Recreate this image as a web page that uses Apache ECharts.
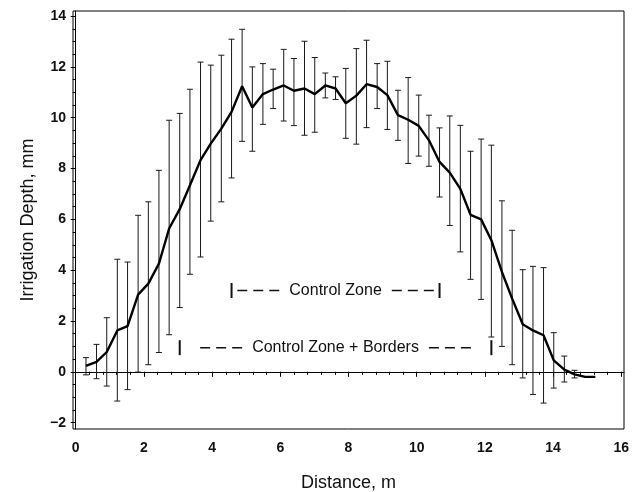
<!DOCTYPE html>
<html>
<head>
<meta charset="utf-8">
<title>Irrigation Depth</title>
<script src="https://cdn.jsdelivr.net/npm/echarts@6/dist/echarts.min.js"></script>
<style>
    html, body { margin: 0; padding: 0; background: #fff; }
    #chart { width: 638px; height: 492px; }
</style>
</head>
<body>
<div id="chart"></div>
<script>
// 测点距离 (m)，每 1 ft 一个点
const distance = [0.30, 0.61, 0.91, 1.22, 1.52, 1.83, 2.13, 2.44, 2.74, 3.05,
    3.35, 3.66, 3.96, 4.27, 4.57, 4.88, 5.18, 5.49, 5.79, 6.10,
    6.40, 6.71, 7.01, 7.32, 7.62, 7.92, 8.23, 8.53, 8.84, 9.14,
    9.45, 9.75, 10.06, 10.36, 10.67, 10.97, 11.28, 11.58, 11.89, 12.19,
    12.50, 12.80, 13.11, 13.41, 13.72, 14.02, 14.33, 14.63, 14.94, 15.24]

// 平均灌水深度 (mm)
const depthMean = [0.23, 0.39, 0.78, 1.63, 1.80, 3.04, 3.47, 4.26, 5.64, 6.40,
    7.34, 8.33, 8.98, 9.57, 10.23, 11.24, 10.40, 10.93, 11.11, 11.27,
    11.06, 11.15, 10.93, 11.27, 11.15, 10.57, 10.87, 11.32, 11.21, 10.89,
    10.10, 9.92, 9.68, 9.11, 8.26, 7.84, 7.20, 6.18, 6.00, 5.18,
    3.93, 2.88, 1.87, 1.63, 1.44, 0.45, 0.09, -0.10, -0.20, -0.20]

// 误差线上端 / 下端 (mm)，最后两个点没有误差线
const depthHigh = [0.56, 1.08, 2.13, 4.43, 4.32, 6.16, 6.69, 7.93, 9.90, 10.17,
    11.12, 12.19, 12.07, 12.46, 13.09, 13.48, 12.00, 12.13, 11.91, 12.69,
    12.33, 13.01, 12.37, 11.76, 11.61, 11.94, 12.72, 13.05, 12.13, 12.22,
    11.08, 11.58, 10.89, 10.10, 9.60, 10.07, 9.70, 8.68, 9.16, 8.92,
    6.73, 5.57, 4.02, 4.15, 4.10, 1.54, 0.62, 0.06, null, null]
const depthLow = [-0.12, -0.27, -0.56, -1.15, -0.70, -0.01, 0.28, 0.76, 1.46, 2.53,
    3.84, 4.52, 5.93, 6.69, 7.63, 9.07, 8.68, 9.74, 10.36, 9.87,
    9.69, 9.31, 9.43, 10.78, 10.72, 9.19, 8.96, 9.61, 10.36, 9.54,
    9.11, 8.20, 8.49, 8.09, 6.88, 5.76, 4.72, 3.64, 2.85, 1.37,
    1.00, 0.28, -0.24, -0.89, -1.23, -0.64, -0.40, -0.24, null, null]

// 刻度
const xTicks = [0, 2, 4, 6, 8, 10, 12, 14, 16]
const yTicks = [-2, 0, 2, 4, 6, 8, 10, 12, 14]

// 区域标注
const zoneNames = ['Control Zone', 'Control Zone + Borders']
const zoneStart = [4.57, 3.05]
const zoneEnd = [10.67, 12.19]
const zoneLevel = [3.2, 0.95]

const xMin = -0.08, xMax = 16.08
const yMin = -2.25, yMax = 14.2

// 次刻度位置
let xMinor = []
for (let v = 0; v <= 16.001; v += 0.4) xMinor.push(+v.toFixed(1))
let yMinor = []
for (let v = -2; v <= 14.001; v += 0.5) yMinor.push(+v.toFixed(1))

const FONT = "'Liberation Sans', Arial, sans-serif"
const zoneFontSize = 16
const measureCtx = document.createElement('canvas').getContext('2d')

function $each(arr, fn) {
    for (let i = 0; i < arr.length; i++) fn(i, arr[i])
}

let lineData = []
let barData = []
$each(distance, (i, d) => {
    lineData.push([d, depthMean[i]])
    if (depthHigh[i] != null) barData.push([d, depthLow[i], depthHigh[i]])
})
let zoneData = []
$each(zoneNames, (i) => {
    zoneData.push([zoneStart[i], zoneEnd[i], zoneLevel[i]])
})

// 误差线
function renderErrorBar(params, api) {
    const x = api.value(0)
    const lo = api.coord([x, api.value(1)])
    const hi = api.coord([x, api.value(2)])
    const half = 3
    const style = { stroke: '#1a1a1a', lineWidth: 1 }
    return {
        type: 'group',
        children: [
            { type: 'line', shape: { x1: lo[0], y1: lo[1], x2: hi[0], y2: hi[1] }, style: style },
            { type: 'line', shape: { x1: hi[0] - half, y1: hi[1], x2: hi[0] + half, y2: hi[1] }, style: style },
            { type: 'line', shape: { x1: lo[0] - half, y1: lo[1], x2: lo[0] + half, y2: lo[1] }, style: style }
        ]
    }
}

// 区域标注: |--- 文字 ---|
function renderZone(params, api) {
    const label = zoneNames[params.dataIndex]
    const left = api.coord([api.value(0), api.value(2)])
    const right = api.coord([api.value(1), api.value(2)])
    const y = left[1]
    measureCtx.font = zoneFontSize + 'px ' + FONT
    const w = measureCtx.measureText(label).width
    const cx = (left[0] + right[0]) / 2
    const tl = cx - w / 2
    const tr = cx + w / 2
    const gap = 10, dashLen = 42
    const dashStyle = { stroke: '#111', lineWidth: 1.6, lineDash: [10, 6] }
    return {
        type: 'group',
        children: [
            { type: 'rect', shape: { x: left[0] - 1, y: y - 7.5, width: 2, height: 15 }, style: { fill: '#111' } },
            { type: 'rect', shape: { x: right[0] - 1, y: y - 7.5, width: 2, height: 15 }, style: { fill: '#111' } },
            { type: 'line', shape: { x1: tl - gap - dashLen, y1: y, x2: tl - gap, y2: y }, style: dashStyle },
            { type: 'line', shape: { x1: tr + gap, y1: y, x2: tr + gap + dashLen, y2: y }, style: dashStyle },
            {
                type: 'text',
                style: {
                    text: label, x: cx, y: y,
                    textAlign: 'center', textVerticalAlign: 'middle',
                    fontSize: zoneFontSize, fontFamily: FONT, fill: '#111'
                }
            }
        ]
    }
}

var myChart = echarts.init(document.getElementById('chart'))

var option = {
    animation: false,
    backgroundColor: '#fff',
    grid: {
        left: 73, right: 14, top: 11, bottom: 63,
        outerBoundsMode: 'none',
        show: true, borderColor: '#000', borderWidth: 1,
        backgroundColor: 'transparent'
    },
    xAxis: [
        {
            type: 'value',
            min: xMin, max: xMax,
            position: 'bottom',
            name: 'Distance, m',
            nameLocation: 'middle',
            nameGap: 45,
            nameMoveOverlap: false,
            nameTextStyle: { fontFamily: FONT, fontSize: 18, color: '#111' },
            axisLine: { show: true, lineStyle: { color: '#000', width: 1 } },
            axisTick: { show: true, customValues: xTicks, length: 5, lineStyle: { color: '#000' } },
            axisLabel: {
                customValues: xTicks, margin: 12,
                fontFamily: FONT, fontSize: 14, fontWeight: 'bold', color: '#111'
            },
            splitLine: { show: false }
        },
        {
            type: 'value',
            min: xMin, max: xMax,
            position: 'bottom',
            axisLine: { show: false },
            axisTick: { show: true, customValues: xMinor, length: 3, lineStyle: { color: '#000' } },
            axisLabel: { show: false },
            splitLine: { show: false }
        }
    ],
    yAxis: [
        {
            type: 'value',
            min: yMin, max: yMax,
            position: 'left',
            name: 'Irrigation Depth, mm',
            nameLocation: 'middle',
            nameGap: 36,
            nameMoveOverlap: false,
            nameTextStyle: { fontFamily: FONT, fontSize: 18, color: '#111' },
            axisLine: { show: true, lineStyle: { color: '#000', width: 1 } },
            axisTick: { show: true, customValues: yTicks, length: 5, lineStyle: { color: '#000' } },
            axisLabel: {
                customValues: yTicks, margin: 7,
                fontFamily: FONT, fontSize: 14, fontWeight: 'bold', color: '#111',
                formatter: (v) => (v < 0 ? '\u2212' + Math.abs(v) : String(v))
            },
            splitLine: { show: false }
        },
        {
            type: 'value',
            min: yMin, max: yMax,
            position: 'left',
            axisLine: { show: false },
            axisTick: { show: true, customValues: yMinor, length: 3, lineStyle: { color: '#000' } },
            axisLabel: { show: false },
            splitLine: { show: false }
        }
    ],
    series: [
        {
            name: 'error',
            type: 'custom',
            xAxisIndex: 0, yAxisIndex: 0,
            renderItem: renderErrorBar,
            encode: { x: 0, y: [1, 2] },
            data: barData,
            z: 2
        },
        {
            name: 'depth',
            type: 'line',
            xAxisIndex: 0, yAxisIndex: 0,
            data: lineData,
            symbol: 'none',
            lineStyle: { color: '#000', width: 2.4 },
            z: 3
        },
        {
            name: 'zones',
            type: 'custom',
            xAxisIndex: 0, yAxisIndex: 0,
            renderItem: renderZone,
            encode: { x: [0, 1], y: 2 },
            data: zoneData,
            z: 4
        }
    ]
}

myChart.setOption(option)
</script>
</body>
</html>
